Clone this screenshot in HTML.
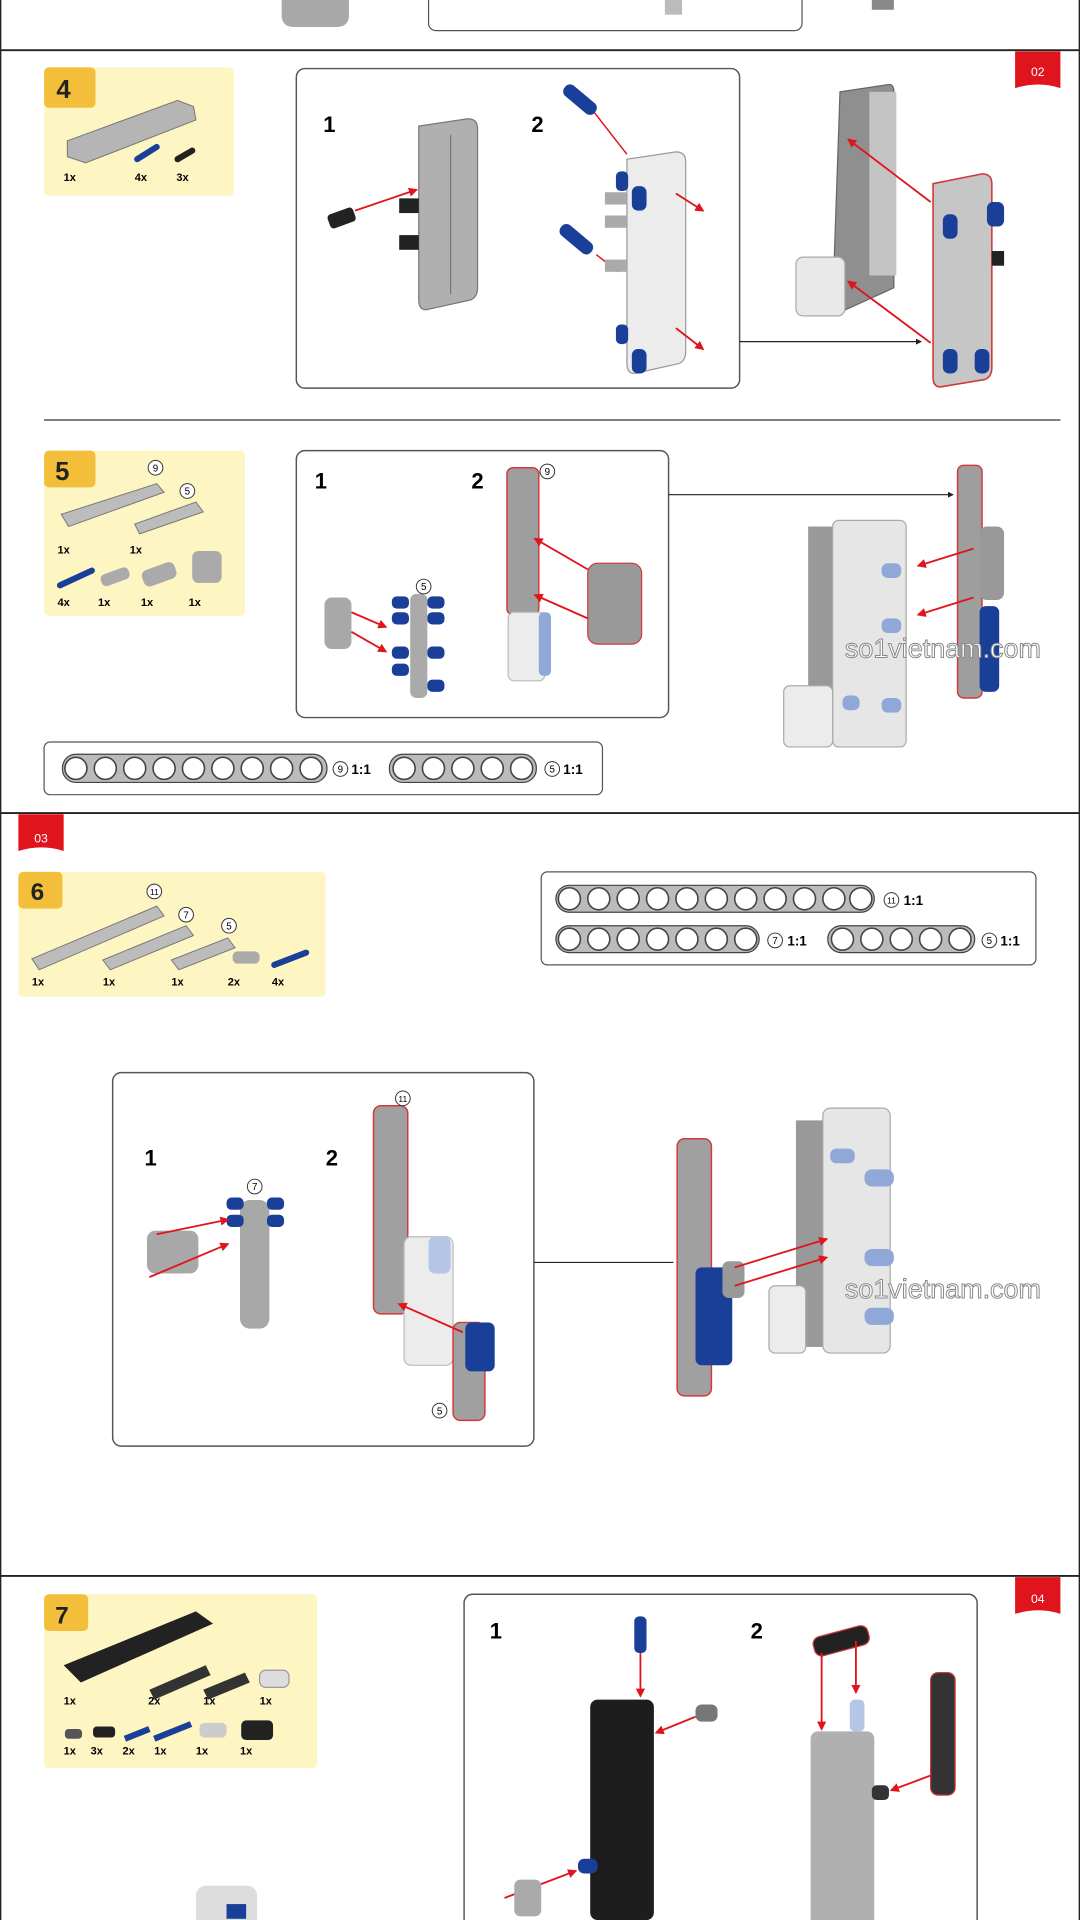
<!DOCTYPE html>
<html><head><meta charset="utf-8"><style>
html,body{margin:0;padding:0;background:#fff;}
svg{display:block;}
text{font-family:"Liberation Sans",sans-serif;}
</style></head><body>
<svg width="1080" height="1920" viewBox="0 0 882 1568" preserveAspectRatio="none" xmlns="http://www.w3.org/2000/svg">
<defs>
<marker id="ar" viewBox="0 0 10 10" refX="8" refY="5" markerWidth="5" markerHeight="5" orient="auto"><path d="M0,0L10,5L0,10z" fill="#e0141c"/></marker>
<marker id="ak" viewBox="0 0 10 10" refX="8" refY="5" markerWidth="5" markerHeight="5" orient="auto"><path d="M0,0L10,5L0,10z" fill="#222"/></marker>
</defs>
<rect width="882" height="1568" fill="#fff"/>
<!-- page borders -->
<line x1="0.5" y1="0" x2="0.5" y2="1568" stroke="#222" stroke-width="1.2"/>
<line x1="881.5" y1="0" x2="881.5" y2="1568" stroke="#222" stroke-width="1.2"/>
<line x1="0" y1="41" x2="882" y2="41" stroke="#222" stroke-width="1.5"/>
<line x1="0" y1="664" x2="882" y2="664" stroke="#222" stroke-width="1.5"/>
<line x1="0" y1="1287" x2="882" y2="1287" stroke="#222" stroke-width="1.5"/>
<line x1="36" y1="343" x2="866" y2="343" stroke="#333" stroke-width="1"/>

<!-- top remnants -->
<rect x="350" y="-10" width="305" height="35" rx="6" fill="none" stroke="#555"/>
<path d="M230,0 h55 v12 q0,10 -10,10 h-35 q-10,0 -10,-10z" fill="#a8a8a8"/>
<rect x="543" y="0" width="14" height="12" fill="#bbb"/>
<rect x="712" y="0" width="18" height="8" fill="#888"/>

<!-- red tags -->
<path d="M829,42 h37 v30 q-18,-6 -37,0z" fill="#e0141c"/>
<text x="847.5" y="62" font-size="10" fill="#fff" text-anchor="middle">02</text>
<path d="M15,665 h37 v30 q-18,-6 -37,0z" fill="#e0141c"/>
<text x="33.5" y="688" font-size="10" fill="#fff" text-anchor="middle">03</text>
<path d="M829,1288 h37 v30 q-18,-6 -37,0z" fill="#e0141c"/>
<text x="847.5" y="1309" font-size="10" fill="#fff" text-anchor="middle">04</text>

<!-- STEP 4 -->
<rect x="36" y="55" width="155" height="105" rx="4" fill="#fdf5c2"/>
<rect x="36" y="55" width="42" height="33" rx="4" fill="#f3bf3a"/>
<text x="46" y="80" font-size="21" font-weight="bold" fill="#222">4</text>
<path d="M55,115 L145,82 L158,87 L160,98 L70,133 L55,128z" fill="#b5b5b5" stroke="#777" stroke-width="0.8"/>
<path d="M112,130 l16,-10" stroke="#1a3f99" stroke-width="5" stroke-linecap="round"/>
<path d="M145,130 l12,-7" stroke="#222" stroke-width="5" stroke-linecap="round"/>
<text x="52" y="148" font-size="9" font-weight="bold">1x</text>
<text x="110" y="148" font-size="9" font-weight="bold">4x</text>
<text x="144" y="148" font-size="9" font-weight="bold">3x</text>

<rect x="242" y="56" width="362" height="261" rx="7" fill="#fff" stroke="#555" stroke-width="1.2"/>
<text x="264" y="108" font-size="18" font-weight="bold">1</text>
<text x="434" y="108" font-size="18" font-weight="bold">2</text>
<path d="M342,103 l40,-6 q8,0 8,8 v130 q0,8 -6,10 l-36,8 q-6,0 -6,-8z" fill="#b0b0b0" stroke="#777"/>
<line x1="368" y1="110" x2="368" y2="240" stroke="#777"/>
<rect x="268" y="172" width="22" height="12" rx="3" fill="#222" transform="rotate(-20 279 178)"/>
<line x1="290" y1="172" x2="340" y2="155" stroke="#e0141c" stroke-width="1.5" marker-end="url(#ar)"/>
<rect x="326" y="162" width="16" height="12" fill="#222"/><rect x="326" y="192" width="16" height="12" fill="#222"/>
<path d="M512,130 l40,-6 q8,0 8,8 v155 q0,8 -6,10 l-36,8 q-6,0 -6,-8z" fill="#ececec" stroke="#999"/>
<line x1="480" y1="85" x2="512" y2="126" stroke="#e0141c" stroke-width="1.2"/>
<rect x="458" y="76" width="32" height="11" rx="5" fill="#1a3f99" transform="rotate(40 474 81)"/>
<rect x="455" y="190" width="32" height="11" rx="5" fill="#1a3f99" transform="rotate(40 471 195)"/>
<line x1="487" y1="208" x2="505" y2="222" stroke="#e0141c" stroke-width="1.2"/>
<rect x="494" y="157" width="18" height="10" fill="#aaa"/><rect x="494" y="176" width="18" height="10" fill="#aaa"/><rect x="494" y="212" width="18" height="10" fill="#aaa"/>
<rect x="503" y="140" width="10" height="16" rx="4" fill="#1a3f99"/><rect x="503" y="265" width="10" height="16" rx="4" fill="#1a3f99"/>
<rect x="516" y="152" width="12" height="20" rx="5" fill="#1a3f99"/><rect x="516" y="285" width="12" height="20" rx="5" fill="#1a3f99"/>
<line x1="552" y1="158" x2="574" y2="172" stroke="#e0141c" stroke-width="1.5" marker-end="url(#ar)"/>
<line x1="552" y1="268" x2="574" y2="285" stroke="#e0141c" stroke-width="1.5" marker-end="url(#ar)"/>
<line x1="604" y1="279" x2="752" y2="279" stroke="#222" stroke-width="1" marker-end="url(#ak)"/>
<!-- assembled 4 -->
<path d="M686,75 l40,-6 q4,0 4,6 v160 l-44,20 q-6,0 -6,-6z" fill="#8f8f8f" stroke="#666"/>
<rect x="710" y="75" width="22" height="150" fill="#c4c4c4"/>
<rect x="650" y="210" width="40" height="48" rx="6" fill="#e9e9e9" stroke="#aaa"/>
<path d="M762,150 l40,-8 q8,0 8,8 v150 q0,8 -6,10 l-36,6 q-6,0 -6,-8z" fill="#c6c6c6" stroke="#d23a3a" stroke-width="1.3"/>
<line x1="760" y1="165" x2="693" y2="114" stroke="#e0141c" stroke-width="1.5" marker-end="url(#ar)"/>
<line x1="760" y1="280" x2="693" y2="230" stroke="#e0141c" stroke-width="1.5" marker-end="url(#ar)"/>
<rect x="770" y="175" width="12" height="20" rx="5" fill="#1a3f99"/><rect x="770" y="285" width="12" height="20" rx="5" fill="#1a3f99"/>
<rect x="796" y="285" width="12" height="20" rx="5" fill="#1a3f99"/><rect x="806" y="165" width="14" height="20" rx="5" fill="#1a3f99"/>
<rect x="810" y="205" width="10" height="12" fill="#222"/>

<!-- STEP 5 -->
<rect x="36" y="368" width="164" height="135" rx="4" fill="#fdf5c2"/>
<rect x="36" y="368" width="42" height="30" rx="4" fill="#f3bf3a"/>
<text x="45" y="392" font-size="21" font-weight="bold" fill="#222">5</text>
<path d="M50,420 L128,395 L134,402 L56,430z" fill="#bcbcbc" stroke="#777" stroke-width="0.8"/>
<path d="M110,428 L160,410 L166,418 L114,436z" fill="#bcbcbc" stroke="#777" stroke-width="0.8"/>
<circle cx="127" cy="382" r="6" fill="#fff" stroke="#333" stroke-width="0.8"/><text x="127" y="385" font-size="8" text-anchor="middle">9</text>
<circle cx="153" cy="401" r="6" fill="#fff" stroke="#333" stroke-width="0.8"/><text x="153" y="404" font-size="8" text-anchor="middle">5</text>
<text x="47" y="452" font-size="9" font-weight="bold">1x</text><text x="106" y="452" font-size="9" font-weight="bold">1x</text>
<path d="M49,478 l26,-12" stroke="#1a3f99" stroke-width="5" stroke-linecap="round"/>
<rect x="82" y="466" width="24" height="10" rx="4" fill="#aaa" transform="rotate(-20 94 471)"/>
<rect x="116" y="462" width="28" height="14" rx="5" fill="#aaa" transform="rotate(-20 130 469)"/>
<rect x="157" y="450" width="24" height="26" rx="5" fill="#aaa"/>
<text x="47" y="495" font-size="9" font-weight="bold">4x</text><text x="80" y="495" font-size="9" font-weight="bold">1x</text>
<text x="115" y="495" font-size="9" font-weight="bold">1x</text><text x="154" y="495" font-size="9" font-weight="bold">1x</text>

<rect x="242" y="368" width="304" height="218" rx="7" fill="#fff" stroke="#555" stroke-width="1.2"/>
<text x="257" y="399" font-size="18" font-weight="bold">1</text>
<text x="385" y="399" font-size="18" font-weight="bold">2</text>
<rect x="265" y="488" width="22" height="42" rx="6" fill="#a8a8a8"/>
<line x1="287" y1="500" x2="315" y2="512" stroke="#e0141c" stroke-width="1.5" marker-end="url(#ar)"/>
<line x1="287" y1="516" x2="315" y2="532" stroke="#e0141c" stroke-width="1.5" marker-end="url(#ar)"/>
<rect x="335" y="485" width="14" height="85" rx="5" fill="#aaa"/>
<rect x="320" y="487" width="14" height="10" rx="4" fill="#1a3f99"/><rect x="320" y="500" width="14" height="10" rx="4" fill="#1a3f99"/>
<rect x="320" y="528" width="14" height="10" rx="4" fill="#1a3f99"/><rect x="320" y="542" width="14" height="10" rx="4" fill="#1a3f99"/>
<rect x="349" y="487" width="14" height="10" rx="4" fill="#1a3f99"/><rect x="349" y="500" width="14" height="10" rx="4" fill="#1a3f99"/>
<rect x="349" y="528" width="14" height="10" rx="4" fill="#1a3f99"/><rect x="349" y="555" width="14" height="10" rx="4" fill="#1a3f99"/>
<circle cx="346" cy="479" r="6" fill="#fff" stroke="#333" stroke-width="0.8"/><text x="346" y="482" font-size="8" text-anchor="middle">5</text>
<rect x="414" y="382" width="26" height="120" rx="5" fill="#9e9e9e" stroke="#d23a3a" stroke-width="1.2"/>
<rect x="415" y="500" width="30" height="56" rx="5" fill="#ececec" stroke="#bbb"/>
<rect x="440" y="500" width="10" height="52" rx="4" fill="#8fa8d8"/>
<circle cx="447" cy="385" r="6" fill="#fff" stroke="#333" stroke-width="0.8"/><text x="447" y="388" font-size="8" text-anchor="middle">9</text>
<rect x="480" y="460" width="44" height="66" rx="8" fill="#999" stroke="#d23a3a" stroke-width="1"/>
<line x1="480" y1="465" x2="437" y2="440" stroke="#e0141c" stroke-width="1.5" marker-end="url(#ar)"/>
<line x1="480" y1="505" x2="437" y2="486" stroke="#e0141c" stroke-width="1.5" marker-end="url(#ar)"/>
<line x1="546" y1="404" x2="778" y2="404" stroke="#222" stroke-width="1" marker-end="url(#ak)"/>
<!-- assembled 5 -->
<rect x="660" y="430" width="22" height="170" fill="#999"/>
<rect x="680" y="425" width="60" height="185" rx="5" fill="#e6e6e6" stroke="#aaa"/>
<rect x="640" y="560" width="40" height="50" rx="5" fill="#ececec" stroke="#aaa"/>
<rect x="720" y="460" width="16" height="12" rx="5" fill="#8fa8d8"/><rect x="720" y="505" width="16" height="12" rx="5" fill="#8fa8d8"/>
<rect x="720" y="570" width="16" height="12" rx="5" fill="#8fa8d8"/><rect x="688" y="568" width="14" height="12" rx="5" fill="#8fa8d8"/>
<rect x="782" y="380" width="20" height="190" rx="5" fill="#9e9e9e" stroke="#d23a3a" stroke-width="1.2"/>
<rect x="800" y="430" width="20" height="60" rx="6" fill="#999"/>
<rect x="800" y="495" width="16" height="70" rx="5" fill="#1a3f99"/>
<line x1="795" y1="448" x2="750" y2="462" stroke="#e0141c" stroke-width="1.5" marker-end="url(#ar)"/>
<line x1="795" y1="488" x2="750" y2="502" stroke="#e0141c" stroke-width="1.5" marker-end="url(#ar)"/>
<text x="690" y="537" font-size="22" fill="#fff" stroke="#888" stroke-width="0.8">so1vietnam.com</text>

<!-- ruler 5 -->
<rect x="36" y="606" width="456" height="43" rx="5" fill="#fff" stroke="#555"/>
<rect x="51" y="616" width="216" height="23" rx="11" fill="#bbb" stroke="#444"/>
<g fill="#fff" stroke="#444" stroke-width="1.3">
<circle cx="62" cy="627.5" r="9"/><circle cx="86" cy="627.5" r="9"/><circle cx="110" cy="627.5" r="9"/><circle cx="134" cy="627.5" r="9"/><circle cx="158" cy="627.5" r="9"/><circle cx="182" cy="627.5" r="9"/><circle cx="206" cy="627.5" r="9"/><circle cx="230" cy="627.5" r="9"/><circle cx="254" cy="627.5" r="9"/></g>
<circle cx="278" cy="628" r="6" fill="#fff" stroke="#333" stroke-width="0.8"/><text x="278" y="631" font-size="8" text-anchor="middle">9</text>
<text x="287" y="632" font-size="11" font-weight="bold">1:1</text>
<rect x="318" y="616" width="120" height="23" rx="11" fill="#bbb" stroke="#444"/>
<g fill="#fff" stroke="#444" stroke-width="1.3">
<circle cx="330" cy="627.5" r="9"/><circle cx="354" cy="627.5" r="9"/><circle cx="378" cy="627.5" r="9"/><circle cx="402" cy="627.5" r="9"/><circle cx="426" cy="627.5" r="9"/></g>
<circle cx="451" cy="628" r="6" fill="#fff" stroke="#333" stroke-width="0.8"/><text x="451" y="631" font-size="8" text-anchor="middle">5</text>
<text x="460" y="632" font-size="11" font-weight="bold">1:1</text>

<!-- STEP 6 -->
<rect x="15" y="712" width="251" height="102" rx="4" fill="#fdf5c2"/>
<rect x="15" y="712" width="36" height="30" rx="4" fill="#f3bf3a"/>
<text x="25" y="735" font-size="20" font-weight="bold" fill="#222">6</text>
<path d="M26,783 L128,740 L134,748 L32,792z" fill="#bcbcbc" stroke="#777" stroke-width="0.8"/>
<path d="M84,784 L152,756 L158,764 L90,792z" fill="#bcbcbc" stroke="#777" stroke-width="0.8"/>
<path d="M140,784 L186,766 L192,774 L146,792z" fill="#bcbcbc" stroke="#777" stroke-width="0.8"/>
<rect x="190" y="777" width="22" height="10" rx="4" fill="#aaa"/>
<path d="M224,788 l26,-10" stroke="#1a3f99" stroke-width="5" stroke-linecap="round"/>
<circle cx="126" cy="728" r="6" fill="#fff" stroke="#333" stroke-width="0.8"/><text x="126" y="731" font-size="7" text-anchor="middle">11</text>
<circle cx="152" cy="747" r="6" fill="#fff" stroke="#333" stroke-width="0.8"/><text x="152" y="750" font-size="8" text-anchor="middle">7</text>
<circle cx="187" cy="756" r="6" fill="#fff" stroke="#333" stroke-width="0.8"/><text x="187" y="759" font-size="8" text-anchor="middle">5</text>
<text x="26" y="805" font-size="9" font-weight="bold">1x</text><text x="84" y="805" font-size="9" font-weight="bold">1x</text>
<text x="140" y="805" font-size="9" font-weight="bold">1x</text><text x="186" y="805" font-size="9" font-weight="bold">2x</text><text x="222" y="805" font-size="9" font-weight="bold">4x</text>

<!-- ruler 6 -->
<rect x="442" y="712" width="404" height="76" rx="5" fill="#fff" stroke="#555"/>
<rect x="454" y="723" width="260" height="22" rx="11" fill="#bbb" stroke="#444"/>
<g fill="#fff" stroke="#444" stroke-width="1.3">
<circle cx="465" cy="734" r="9"/><circle cx="489" cy="734" r="9"/><circle cx="513" cy="734" r="9"/><circle cx="537" cy="734" r="9"/><circle cx="561" cy="734" r="9"/><circle cx="585" cy="734" r="9"/><circle cx="609" cy="734" r="9"/><circle cx="633" cy="734" r="9"/><circle cx="657" cy="734" r="9"/><circle cx="681" cy="734" r="9"/><circle cx="703" cy="734" r="9"/></g>
<circle cx="728" cy="735" r="6" fill="#fff" stroke="#333" stroke-width="0.8"/><text x="728" y="738" font-size="7" text-anchor="middle">11</text>
<text x="738" y="739" font-size="11" font-weight="bold">1:1</text>
<rect x="454" y="756" width="166" height="22" rx="11" fill="#bbb" stroke="#444"/>
<g fill="#fff" stroke="#444" stroke-width="1.3">
<circle cx="465" cy="767" r="9"/><circle cx="489" cy="767" r="9"/><circle cx="513" cy="767" r="9"/><circle cx="537" cy="767" r="9"/><circle cx="561" cy="767" r="9"/><circle cx="585" cy="767" r="9"/><circle cx="609" cy="767" r="9"/></g>
<circle cx="633" cy="768" r="6" fill="#fff" stroke="#333" stroke-width="0.8"/><text x="633" y="771" font-size="8" text-anchor="middle">7</text>
<text x="643" y="772" font-size="11" font-weight="bold">1:1</text>
<rect x="676" y="756" width="120" height="22" rx="11" fill="#bbb" stroke="#444"/>
<g fill="#fff" stroke="#444" stroke-width="1.3">
<circle cx="688" cy="767" r="9"/><circle cx="712" cy="767" r="9"/><circle cx="736" cy="767" r="9"/><circle cx="760" cy="767" r="9"/><circle cx="784" cy="767" r="9"/></g>
<circle cx="808" cy="768" r="6" fill="#fff" stroke="#333" stroke-width="0.8"/><text x="808" y="771" font-size="8" text-anchor="middle">5</text>
<text x="817" y="772" font-size="11" font-weight="bold">1:1</text>

<rect x="92" y="876" width="344" height="305" rx="7" fill="#fff" stroke="#555" stroke-width="1.2"/>
<text x="118" y="952" font-size="18" font-weight="bold">1</text>
<text x="266" y="952" font-size="18" font-weight="bold">2</text>
<rect x="196" y="980" width="24" height="105" rx="8" fill="#a8a8a8"/>
<circle cx="208" cy="969" r="6" fill="#fff" stroke="#333" stroke-width="0.8"/><text x="208" y="972" font-size="8" text-anchor="middle">7</text>
<rect x="185" y="978" width="14" height="10" rx="4" fill="#1a3f99"/><rect x="185" y="992" width="14" height="10" rx="4" fill="#1a3f99"/>
<rect x="218" y="978" width="14" height="10" rx="4" fill="#1a3f99"/><rect x="218" y="992" width="14" height="10" rx="4" fill="#1a3f99"/>
<rect x="120" y="1005" width="42" height="35" rx="7" fill="#a8a8a8"/>
<line x1="128" y1="1008" x2="186" y2="996" stroke="#e0141c" stroke-width="1.5" marker-end="url(#ar)"/>
<line x1="122" y1="1043" x2="186" y2="1016" stroke="#e0141c" stroke-width="1.5" marker-end="url(#ar)"/>
<rect x="305" y="903" width="28" height="170" rx="6" fill="#a0a0a0" stroke="#d23a3a" stroke-width="1.2"/>
<circle cx="329" cy="897" r="6" fill="#fff" stroke="#333" stroke-width="0.8"/><text x="329" y="900" font-size="7" text-anchor="middle">11</text>
<rect x="330" y="1010" width="40" height="105" rx="6" fill="#ececec" stroke="#bbb"/>
<rect x="350" y="1010" width="18" height="30" rx="5" fill="#b5c6e6"/>
<rect x="370" y="1080" width="26" height="80" rx="6" fill="#a0a0a0" stroke="#d23a3a" stroke-width="1.2"/>
<rect x="380" y="1080" width="24" height="40" rx="5" fill="#1a3f99"/>
<line x1="378" y1="1088" x2="326" y2="1065" stroke="#e0141c" stroke-width="1.5" marker-end="url(#ar)"/>
<circle cx="359" cy="1152" r="6" fill="#fff" stroke="#333" stroke-width="0.8"/><text x="359" y="1155" font-size="8" text-anchor="middle">5</text>
<line x1="436" y1="1031" x2="550" y2="1031" stroke="#222" stroke-width="1"/>
<!-- assembled 6 -->
<rect x="553" y="930" width="28" height="210" rx="6" fill="#a0a0a0" stroke="#d23a3a" stroke-width="1.2"/>
<rect x="568" y="1035" width="30" height="80" rx="5" fill="#1a3f99"/>
<rect x="590" y="1030" width="18" height="30" rx="5" fill="#999"/>
<rect x="650" y="915" width="30" height="185" fill="#999"/>
<rect x="672" y="905" width="55" height="200" rx="6" fill="#e6e6e6" stroke="#aaa"/>
<rect x="628" y="1050" width="30" height="55" rx="5" fill="#ececec" stroke="#aaa"/>
<rect x="706" y="955" width="24" height="14" rx="6" fill="#8fa8d8"/><rect x="706" y="1020" width="24" height="14" rx="6" fill="#8fa8d8"/>
<rect x="706" y="1068" width="24" height="14" rx="6" fill="#8fa8d8"/><rect x="678" y="938" width="20" height="12" rx="5" fill="#8fa8d8"/>
<line x1="600" y1="1035" x2="675" y2="1012" stroke="#e0141c" stroke-width="1.5" marker-end="url(#ar)"/>
<line x1="600" y1="1050" x2="675" y2="1027" stroke="#e0141c" stroke-width="1.5" marker-end="url(#ar)"/>
<text x="690" y="1060" font-size="22" fill="#fff" stroke="#888" stroke-width="0.8">so1vietnam.com</text>

<!-- STEP 7 -->
<rect x="36" y="1302" width="223" height="142" rx="4" fill="#fdf5c2"/>
<rect x="36" y="1302" width="36" height="30" rx="4" fill="#f3bf3a"/>
<text x="45" y="1326" font-size="20" font-weight="bold" fill="#222">7</text>
<path d="M52,1360 L160,1316 L174,1326 L66,1374z" fill="#222"/>
<path d="M122,1380 L168,1360 L172,1368 L126,1388z" fill="#333"/>
<path d="M166,1380 L200,1366 L204,1374 L170,1388z" fill="#333"/>
<rect x="212" y="1364" width="24" height="14" rx="5" fill="#ddd" stroke="#999"/>
<text x="52" y="1392" font-size="9" font-weight="bold">1x</text><text x="121" y="1392" font-size="9" font-weight="bold">2x</text>
<text x="166" y="1392" font-size="9" font-weight="bold">1x</text><text x="212" y="1392" font-size="9" font-weight="bold">1x</text>
<rect x="53" y="1412" width="14" height="8" rx="3" fill="#555"/><rect x="76" y="1410" width="18" height="9" rx="3" fill="#222"/>
<path d="M102,1420 l20,-8" stroke="#1a3f99" stroke-width="5"/><path d="M126,1420 l30,-12" stroke="#1a3f99" stroke-width="5"/>
<rect x="163" y="1407" width="22" height="12" rx="4" fill="#ccc"/><rect x="197" y="1405" width="26" height="16" rx="4" fill="#222"/>
<text x="52" y="1433" font-size="9" font-weight="bold">1x</text><text x="74" y="1433" font-size="9" font-weight="bold">3x</text>
<text x="100" y="1433" font-size="9" font-weight="bold">2x</text><text x="126" y="1433" font-size="9" font-weight="bold">1x</text>
<text x="160" y="1433" font-size="9" font-weight="bold">1x</text><text x="196" y="1433" font-size="9" font-weight="bold">1x</text>
<rect x="160" y="1540" width="50" height="40" rx="8" fill="#ddd"/><rect x="185" y="1555" width="16" height="12" fill="#1a3f99"/>

<rect x="379" y="1302" width="419" height="290" rx="7" fill="#fff" stroke="#555" stroke-width="1.2"/>
<text x="400" y="1338" font-size="18" font-weight="bold">1</text>
<text x="613" y="1338" font-size="18" font-weight="bold">2</text>
<rect x="518" y="1320" width="10" height="30" rx="4" fill="#1a3f99"/>
<line x1="523" y1="1350" x2="523" y2="1385" stroke="#e0141c" stroke-width="1.5" marker-end="url(#ar)"/>
<rect x="482" y="1388" width="52" height="180" rx="6" fill="#1d1d1d"/>
<rect x="568" y="1392" width="18" height="14" rx="5" fill="#777"/>
<line x1="568" y1="1402" x2="536" y2="1415" stroke="#e0141c" stroke-width="1.5" marker-end="url(#ar)"/>
<line x1="412" y1="1550" x2="470" y2="1528" stroke="#e0141c" stroke-width="1.5" marker-end="url(#ar)"/>
<rect x="420" y="1535" width="22" height="30" rx="5" fill="#aaa"/><rect x="472" y="1518" width="16" height="12" rx="5" fill="#1a3f99"/>
<rect x="664" y="1332" width="46" height="16" rx="6" fill="#222" stroke="#d23a3a" transform="rotate(-15 687 1340)"/>
<line x1="671" y1="1350" x2="671" y2="1412" stroke="#e0141c" stroke-width="1.5" marker-end="url(#ar)"/>
<line x1="699" y1="1340" x2="699" y2="1382" stroke="#e0141c" stroke-width="1.5" marker-end="url(#ar)"/>
<rect x="694" y="1388" width="12" height="26" rx="4" fill="#b5c6e6"/>
<rect x="662" y="1414" width="52" height="160" rx="6" fill="#b0b0b0"/>
<rect x="760" y="1366" width="20" height="100" rx="6" fill="#333" stroke="#d23a3a"/>
<line x1="760" y1="1450" x2="728" y2="1462" stroke="#e0141c" stroke-width="1.5" marker-end="url(#ar)"/>
<rect x="712" y="1458" width="14" height="12" rx="4" fill="#333"/>
</svg>
</body></html>
